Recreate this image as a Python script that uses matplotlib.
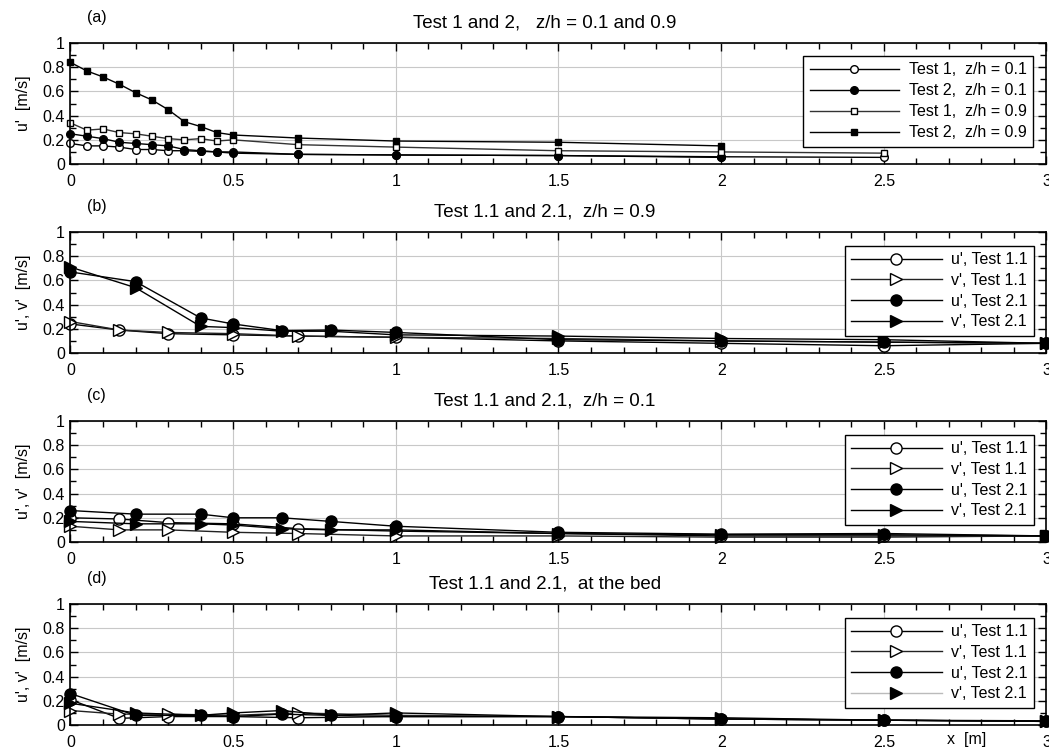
import matplotlib
matplotlib.use('Agg')
import matplotlib.pyplot as plt
from matplotlib.ticker import MultipleLocator

plt.rcParams['font.family'] = ['Liberation Sans', 'DejaVu Sans']
plt.rcParams['font.size'] = 11

# ---- panel (a): Test 1 and 2 ----
xa1 = [0, 0.05, 0.1, 0.15, 0.2, 0.25, 0.3, 0.35, 0.4, 0.45, 0.5, 0.7, 1.0, 1.5, 2.0, 2.5]
xa2 = [0, 0.05, 0.1, 0.15, 0.2, 0.25, 0.3, 0.35, 0.4, 0.45, 0.5, 0.7, 1.0, 1.5, 2.0]
t1_z01 = [0.17, 0.15, 0.15, 0.14, 0.12, 0.12, 0.11, 0.11, 0.105, 0.10, 0.10, 0.08, 0.075, 0.07, 0.06, 0.055]
t2_z01 = [0.25, 0.23, 0.21, 0.18, 0.17, 0.16, 0.15, 0.12, 0.11, 0.10, 0.09, 0.08, 0.075, 0.07, 0.055]
t1_z09 = [0.34, 0.28, 0.29, 0.26, 0.25, 0.23, 0.21, 0.20, 0.21, 0.19, 0.20, 0.16, 0.14, 0.11, 0.10, 0.09]
t2_z09 = [0.84, 0.77, 0.72, 0.66, 0.59, 0.53, 0.45, 0.35, 0.31, 0.26, 0.24, 0.215, 0.19, 0.18, 0.15]

# ---- panels (b)-(d): Test 1.1 and 2.1 ----
x11 = [0, 0.15, 0.3, 0.5, 0.7, 1.0, 1.5, 2.0, 2.5, 3.0]
x21 = [0, 0.2, 0.4, 0.5, 0.65, 0.8, 1.0, 1.5, 2.0, 2.5, 3.0]

# z/h = 0.9
b_u11 = [0.24, 0.19, 0.16, 0.15, 0.14, 0.13, 0.10, 0.08, 0.06, 0.08]
b_v11 = [0.26, 0.19, 0.17, 0.16, 0.14, 0.13, 0.12, 0.10, 0.09, 0.08]
b_u21 = [0.67, 0.59, 0.29, 0.24, 0.185, 0.19, 0.17, 0.11, 0.10, 0.09, 0.08]
b_v21 = [0.71, 0.54, 0.22, 0.21, 0.18, 0.18, 0.15, 0.14, 0.12, 0.11, 0.08]

# z/h = 0.1
c_u11 = [0.20, 0.19, 0.16, 0.15, 0.11, 0.09, 0.07, 0.05, 0.05, 0.05]
c_v11 = [0.13, 0.10, 0.10, 0.08, 0.07, 0.05, 0.05, 0.04, 0.04, 0.05]
c_u21 = [0.26, 0.23, 0.23, 0.20, 0.20, 0.17, 0.13, 0.08, 0.065, 0.07, 0.05]
c_v21 = [0.17, 0.15, 0.15, 0.14, 0.11, 0.10, 0.10, 0.07, 0.06, 0.06, 0.05]

# at the bed
d_u11 = [0.21, 0.055, 0.07, 0.07, 0.06, 0.07, 0.07, 0.05, 0.04, 0.03]
d_v11 = [0.12, 0.09, 0.09, 0.08, 0.10, 0.08, 0.07, 0.05, 0.04, 0.03]
d_u21 = [0.26, 0.08, 0.08, 0.07, 0.09, 0.08, 0.07, 0.07, 0.05, 0.04, 0.035]
d_v21 = [0.18, 0.10, 0.08, 0.10, 0.12, 0.08, 0.10, 0.07, 0.06, 0.04, 0.03]

fig = plt.figure(figsize=(10.49, 7.49), dpi=100)

left, width, height = 0.0672, 0.9304, 0.1615
bottoms = [0.781, 0.5287, 0.2764, 0.032]
titles = ['Test 1 and 2,   z/h = 0.1 and 0.9',
          'Test 1.1 and 2.1,  z/h = 0.9',
          'Test 1.1 and 2.1,  z/h = 0.1',
          'Test 1.1 and 2.1,  at the bed']
letters = ['(a)', '(b)', '(c)', '(d)']
ylabels = ["u'  [m/s]", "u', v'  [m/s]", "u', v'  [m/s]", "u', v'  [m/s]"]

fmt = plt.FuncFormatter(lambda v, p: '%g' % v)

axes = []
for i in range(4):
    ax = fig.add_axes([left, bottoms[i], width, height])
    ax.set_xlim(0, 3)
    ax.set_ylim(0, 1)
    ax.xaxis.set_major_locator(MultipleLocator(0.5))
    ax.xaxis.set_minor_locator(MultipleLocator(0.1))
    ax.yaxis.set_major_locator(MultipleLocator(0.2))
    ax.yaxis.set_minor_locator(MultipleLocator(0.1))
    ax.xaxis.set_major_formatter(fmt)
    ax.yaxis.set_major_formatter(fmt)
    ax.tick_params(which='both', direction='in', top=True, right=True, labelsize=11.5)
    ax.tick_params(axis='x', pad=7)
    ax.tick_params(axis='y', pad=4)
    ax.tick_params(which='major', length=6, width=1)
    ax.tick_params(which='minor', length=4, width=1)
    ax.grid(True, which='major', color='#c8c8c8', lw=0.8)
    ax.set_axisbelow(True)
    for s in ax.spines.values():
        s.set_linewidth(1.2)
    ax.set_title(titles[i], fontsize=13.5, pad=11, x=0.486)
    ax.text(0.017, 1.21, letters[i], transform=ax.transAxes, fontsize=11.5,
            ha='left', va='center')
    ax.set_ylabel(ylabels[i], fontsize=11.5, labelpad=8)
    axes.append(ax)

# panel (a)
ax = axes[0]
ax.plot(xa1, t1_z01, '-o', color='black', lw=1, ms=5.5, mfc='white', mec='black', clip_on=False, label='Test 1,  z/h = 0.1')
ax.plot(xa2, t2_z01, '-o', color='black', lw=1, ms=5.5, mfc='black', mec='black', clip_on=False, label='Test 2,  z/h = 0.1')
ax.plot(xa1, t1_z09, '-s', color='#333333', lw=1, ms=5, mfc='white', mec='black', clip_on=False, label='Test 1,  z/h = 0.9')
ax.plot(xa2, t2_z09, '-s', color='black', lw=1, ms=5, mfc='black', mec='black', clip_on=False, label='Test 2,  z/h = 0.9')
leg = ax.legend(loc='upper right', bbox_to_anchor=(0.986, 0.893), fontsize=11.5, frameon=True, fancybox=False,
                edgecolor='black', framealpha=1, handlelength=5.6, handletextpad=0.6, borderpad=0.4,
                labelspacing=0.37, borderaxespad=0)
leg.get_frame().set_linewidth(1)

# panels (b)-(d)
data = [(b_u11, b_v11, b_u21, b_v21), (c_u11, c_v11, c_u21, c_v21), (d_u11, d_v11, d_u21, d_v21)]
for k, (u11, v11, u21, v21) in enumerate(data):
    ax = axes[k + 1]
    ms = 8
    ax.plot(x11, u11, '-o', color='black', lw=1, ms=ms, mfc='white', mec='black', clip_on=False, label="u', Test 1.1")
    ax.plot(x11, v11, '->', color='#222222', lw=1, ms=ms, mfc='white', mec='black', clip_on=False, label="v', Test 1.1")
    ax.plot(x21, u21, '-o', color='black', lw=1, ms=ms, mfc='black', mec='black', clip_on=False, label="u', Test 2.1")
    ax.plot(x21, v21, '->', color='black', lw=1, ms=ms, mfc='black', mec='black', clip_on=False, label="v', Test 2.1")
    leg = ax.legend(loc='upper right', bbox_to_anchor=(0.987, 0.884), fontsize=11.5, frameon=True, fancybox=False,
                    edgecolor='black', framealpha=1, handlelength=5.7, handletextpad=0.55, borderpad=0.4,
                    labelspacing=0.35, borderaxespad=0)
    leg.get_frame().set_linewidth(1)
    if k == 2:
        leg.get_lines()[3].set_color('#bbbbbb')

fig.text(0.921, 0.013, 'x  [m]', fontsize=11.5, ha='center', va='center')

plt.savefig('out.png', dpi=100)
